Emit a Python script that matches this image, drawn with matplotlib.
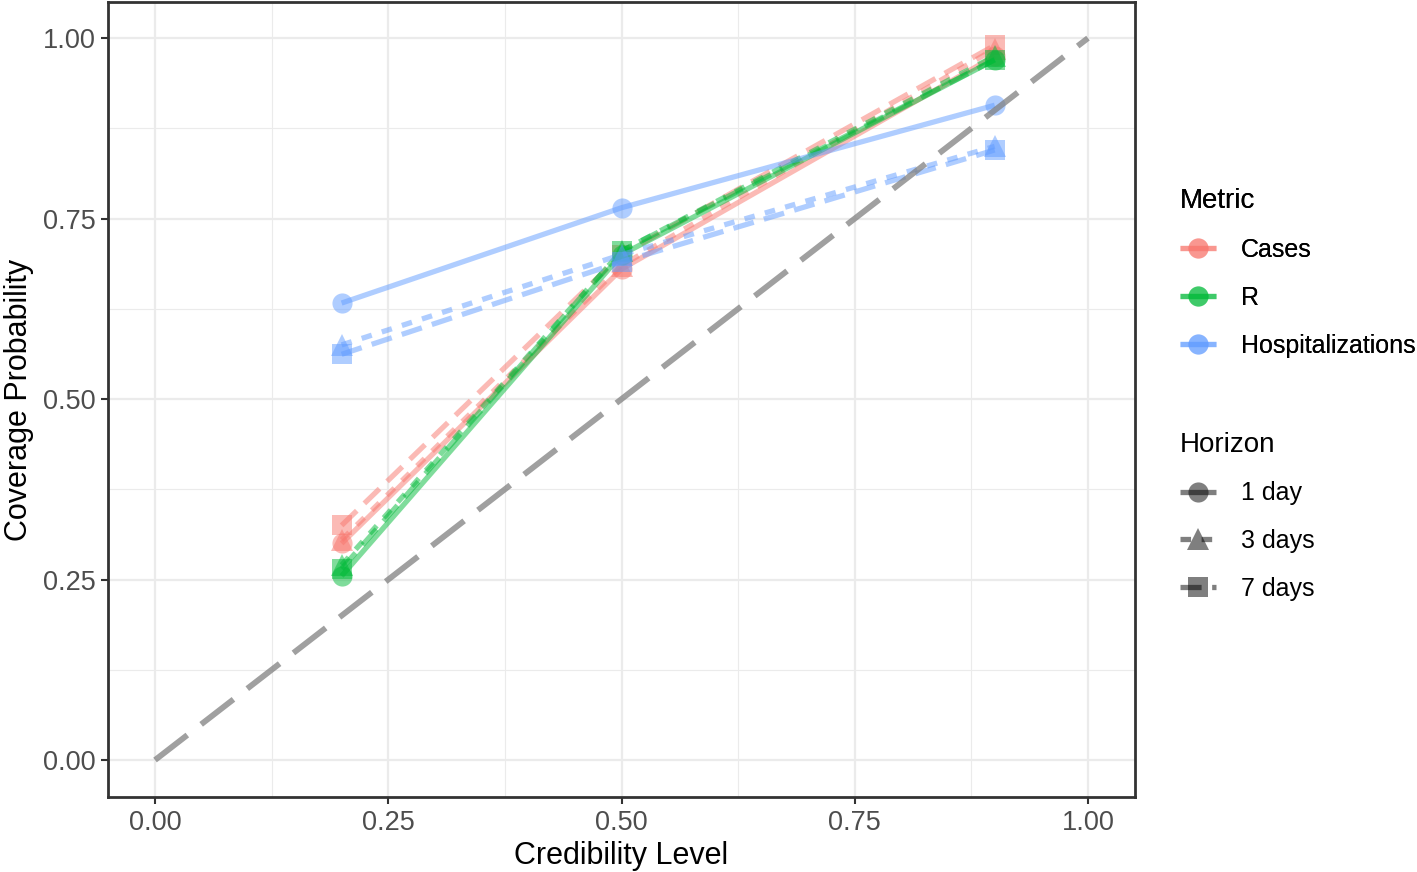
import matplotlib.pyplot as plt
from matplotlib.lines import Line2D

plt.rcParams['font.family'] = ['Liberation Sans', 'DejaVu Sans']

levels = [0.2, 0.5, 0.9]
metrics = ['Cases', 'R', 'Hospitalizations']
horizons = ['1 day', '3 days', '7 days']

cases_1d = [0.300, 0.680, 0.975]
cases_3d = [0.305, 0.685, 0.985]
cases_7d = [0.325, 0.700, 0.990]
r_1d = [0.255, 0.700, 0.970]
r_3d = [0.270, 0.705, 0.975]
r_7d = [0.265, 0.705, 0.970]
hosp_1d = [0.633, 0.765, 0.907]
hosp_3d = [0.575, 0.700, 0.850]
hosp_7d = [0.562, 0.690, 0.845]

data = {
    'Cases': [cases_1d, cases_3d, cases_7d],
    'R': [r_1d, r_3d, r_7d],
    'Hospitalizations': [hosp_1d, hosp_3d, hosp_7d],
}

colors = {'Cases': '#F8766D', 'R': '#00BA38', 'Hospitalizations': '#619CFF'}
markers = ['o', '^', 's']
msizes = [14.5, 15.5, 14]
dashes = [None, (2, 2), (4, 2)]
lw = 3.8
alpha = 0.5

fig = plt.figure(figsize=(14.17, 8.72), dpi=100)
ax = fig.add_axes([108 / 1417, 1 - 797 / 872, (1135 - 108) / 1417, (797 - 2) / 872])

for m in metrics:
    for k in range(3):
        ln, = ax.plot(levels, data[m][k], color=colors[m], lw=lw, alpha=alpha,
                      marker=markers[k], markersize=msizes[k], markeredgewidth=0,
                      solid_capstyle='butt', dash_capstyle='butt', zorder=3)
        if dashes[k] is not None:
            ln.set_dashes(dashes[k])

# reference diagonal
diag, = ax.plot([0, 1], [0, 1], color='#808080', alpha=0.75, lw=4.2, zorder=4,
                dash_capstyle='butt')
diag.set_dashes((7, 3))

ax.set_xlim(-0.0504, 1.0504)
ax.set_ylim(-0.0512, 1.05)
ticks = [0, 0.25, 0.5, 0.75, 1.0]
ax.set_xticks(ticks)
ax.set_yticks(ticks)
ax.set_xticklabels(['0.00', '0.25', '0.50', '0.75', '1.00'])
ax.set_yticklabels(['0.00', '0.25', '0.50', '0.75', '1.00'])
ax.set_xticks([0.125, 0.375, 0.625, 0.875], minor=True)
ax.set_yticks([0.125, 0.375, 0.625, 0.875], minor=True)
ax.grid(True, which='major', color='#EBEBEB', lw=1.6, zorder=0)
ax.grid(True, which='minor', color='#EBEBEB', lw=0.8, zorder=0)
ax.set_axisbelow(True)
ax.tick_params(which='major', length=5, width=1.5, color='#333333',
               labelsize=19.5, labelcolor='#4D4D4D', pad=4)
ax.tick_params(which='minor', length=0)
for s in ax.spines.values():
    s.set_color('#333333')
    s.set_linewidth(2)

ax.set_xlabel('Credibility Level', fontsize=22, labelpad=4)
ax.set_ylabel('Coverage Probability', fontsize=22, labelpad=6)

h_metric = [Line2D([], [], color=colors[m], lw=lw, alpha=alpha, marker='o',
                   markersize=14.5, markeredgewidth=0, solid_capstyle='butt')
            for m in metrics]
h_hor = []
for k in range(3):
    h = Line2D([], [], color='black', lw=lw, alpha=alpha, marker=markers[k],
               markersize=msizes[k], markeredgewidth=0, solid_capstyle='butt',
               dash_capstyle='butt')
    if dashes[k] is not None:
        h.set_dashes(dashes[k])
    h_hor.append(h)

leg1 = fig.legend(h_metric, metrics, title='Metric', loc='upper left',
                  bbox_to_anchor=(1157 / 1417, 1 - 166 / 872), frameon=False,
                  fontsize=18, title_fontsize=20, handlelength=1.45,
                  handletextpad=1.0, labelspacing=0.95, alignment='left')
leg2 = fig.legend(h_hor, horizons, title='Horizon', loc='upper left',
                  bbox_to_anchor=(1157 / 1417, 1 - 409 / 872), frameon=False,
                  fontsize=18, title_fontsize=20, handlelength=1.45,
                  handletextpad=1.0, labelspacing=0.95, alignment='left')
fig.add_artist(leg1)

fig.savefig('out.png', dpi=100)
